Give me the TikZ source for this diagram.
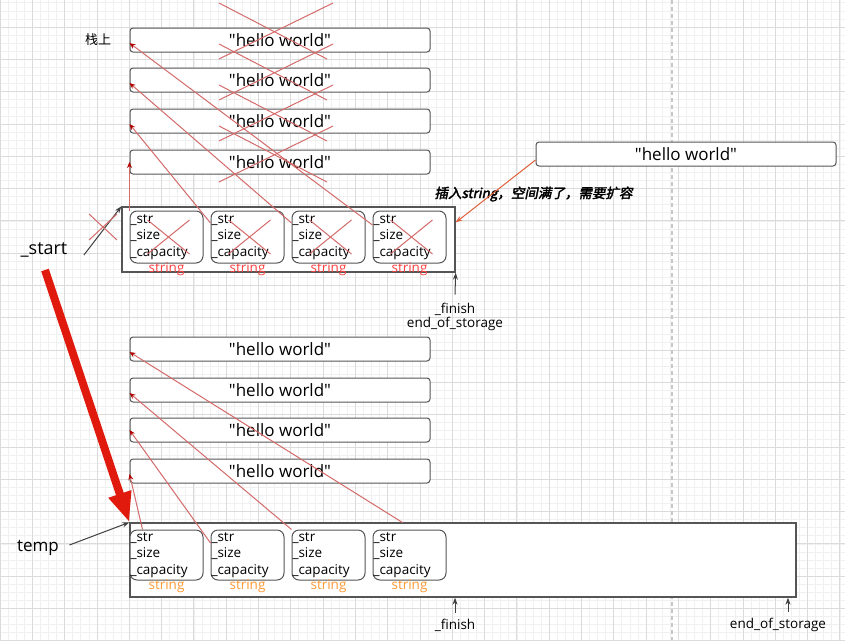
\documentclass[tikz,border=0pt]{standalone}
\usepackage{fontspec}
\setmainfont{Open Sans}[Ligatures=TeXOff]
\newfontfamily\cjk{Noto Sans CJK SC}
\newfontfamily\cjkbi{Noto Sans CJK SC}[FakeBold=2.5,FakeSlant=0.2]
\usetikzlibrary{positioning,arrows.meta,calc}
\usepackage{xcolor}
\definecolor{boxline}{HTML}{555555}
\definecolor{crossred}{HTML}{D46A6A}
\definecolor{tipred}{HTML}{B00000}
\definecolor{strred}{HTML}{FF4040}
\definecolor{strorange}{HTML}{FF9933}
\definecolor{bigred}{HTML}{E01A0C}
\definecolor{insertc}{HTML}{E0603A}

\begin{document}
\begin{tikzpicture}[x=1pt,y=-1pt,
    hw/.style={draw=boxline,line width=1pt,rounded corners=3pt,fill=white,minimum width=300pt,minimum height=24pt,inner sep=0pt,font=\fontsize{17}{19}\selectfont},
    strbox/.style={draw=boxline,line width=1pt,rounded corners=7pt,fill=white,minimum width=73pt,minimum height=52pt,text width=72pt,inner xsep=0.5pt,inner ysep=0pt,align=left,font=\fontsize{13.5}{16.5}\selectfont},
    vec/.style={draw=boxline,line width=1.3pt,fill=white,inner sep=0pt},
    tag/.style={font=\fontsize{13.5}{15}\selectfont,inner sep=0pt},
    ptr/.style={draw=crossred,line width=1pt,-{Stealth[length=6pt,width=5pt,color=tipred]}},
    cross/.style={draw=crossred,line width=1pt},
    blk/.style={draw=black!75,line width=1pt,-{Stealth[length=7pt,width=5pt]}},
    gridminor/.style={draw=black!6,line width=0.6pt},
    gridmajor/.style={draw=black!14,line width=0.7pt},
]
\useasboundingbox (0,0) rectangle (845,640);
\fill[white] (0,0) rectangle (845,640);
% background grid
\foreach \i in {0,...,105} \draw[gridminor] (\i*8.075,0) -- (\i*8.075,640);
\foreach \i in {0,...,80} \draw[gridminor] (0,-5.3+\i*8.075) -- (845,-5.3+\i*8.075);
\foreach \i in {0,...,26} \draw[gridmajor] (\i*32.3,0) -- (\i*32.3,640);
\foreach \i in {0,...,20} \draw[gridmajor] (0,-5.3+\i*32.3) -- (845,-5.3+\i*32.3);
\draw[black!22,line width=1.2pt,dash pattern=on 4pt off 3pt] (672,0) -- (672,640);

% old storage
\node[vec,minimum width=333pt,minimum height=65pt] (vecA) at (288.5,239.5) {};
\foreach \n/\x in {1/166.5,2/247.5,3/328.5,4/409.5} {
  \node[strbox] (sA\n) at (\x,237) {\_str\\\_size\\\_capacity};
  \node[tag,text=strred,below=-1pt of sA\n] (lA\n) {string};
}
\node[hw] (hwA1) at (280,40) {"hello world"};
\node[hw] (hwA2) at (280,80) {"hello world"};
\node[hw] (hwA3) at (280,121) {"hello world"};
\node[hw] (hwA4) at (280,162) {"hello world"};
\node[font=\cjk\fontsize{13}{15}\selectfont] (stack) at (98,40) {栈上};

% new element to insert
\node[hw] (hwC) at (686,154) {"hello world"};
\node[font=\cjkbi\fontsize{13.5}{15}\selectfont,anchor=west] (full) at (431,194) {插入string，空间满了，需要扩容};
\draw[draw=insertc,line width=1pt,-{Stealth[length=7pt,width=5pt]}] ([yshift=-6pt]hwC.west) -- ([yshift=17pt]vecA.east);

% pointers of the old storage
\draw[ptr] (sA1.north west) -- (hwA4.west);
\draw[ptr] ([yshift=14pt]sA2.west) -- ([yshift=-3pt]hwA3.west);
\draw[ptr] ([yshift=14pt]sA3.west) -- ([yshift=-3pt]hwA2.west);
\draw[ptr] ([yshift=12pt]sA4.west) -- ([yshift=-3pt]hwA1.west);

% everything up there is freed
\foreach \y in {31,72,113,154} {
  \draw[cross] (219,\y-28) -- (327,\y+28);
  \draw[cross] (219,\y+28) -- (333,\y-28);
}
\foreach \n in {1,...,4} {
  \draw[cross] ([shift={(-19,-17)}]sA\n.center) -- ([shift={(23,17)}]sA\n.center);
  \draw[cross] ([shift={(-19,17)}]sA\n.center) -- ([shift={(23,-17)}]sA\n.center);
}

\node[font=\fontsize{18}{20}\selectfont] (start) at (44,250) {\_start};
\draw[blk] ($(start.east)+(13,5)$) -- (vecA.north west);
\draw[cross] (89,214) -- (117,240);
\draw[cross] (89,240) -- (117,214);

\node[tag] (finA) at (455,309) {\_finish};
\node[tag,below=2pt of finA] (eosA) {end\_of\_storage};
\draw[blk] ([yshift=8pt]finA.north) -- (vecA.south east);

% new storage
\node[vec,minimum width=666pt,minimum height=74pt] (vecB) at (463,560) {};
\foreach \n/\x in {1/166.5,2/247.5,3/328.5,4/409.5} {
  \node[strbox,minimum height=50pt] (sB\n) at (\x,555) {\_str\\\_size\\\_capacity};
  \node[tag,text=strorange,below=-1pt of sB\n] (lB\n) {string};
}
\node[hw] (hwB1) at (280,349) {"hello world"};
\node[hw] (hwB2) at (280,390) {"hello world"};
\node[hw] (hwB3) at (280,430) {"hello world"};
\node[hw] (hwB4) at (280,471) {"hello world"};

\draw[ptr] ([xshift=13pt]sB1.north west) -- ([yshift=-3pt]hwB4.west);
\draw[ptr] ([yshift=12pt]sB2.west) -- (hwB3.west);
\draw[ptr] (sB3.north west) -- ([yshift=-3pt]hwB2.west);
\draw[ptr] ([xshift=30pt,yshift=7pt]sB4.north west) -- ([yshift=-3pt]hwB1.west);

\node[font=\fontsize{17}{19}\selectfont] (temp) at (38,548) {temp};
\draw[blk] ($(temp.east)+(7,-3)$) -- (vecB.north west);

% move to the new storage
\coordinate (bigtail) at (45,270);
\draw[draw=bigred,line width=8pt,-{Triangle[length=30pt,width=22pt]}] (bigtail) -- (vecB.north west);

\node[tag] (finB) at (455,625) {\_finish};
\draw[blk] ([yshift=6pt]finB.north) -- (finB.north |- vecB.south);
\node[tag] (eosB) at (778,625) {end\_of\_storage};
\draw[blk] ([xshift=10pt,yshift=6pt]eosB.north) -- ([xshift=10pt]eosB.north |- vecB.south);
\end{tikzpicture}
\end{document}
